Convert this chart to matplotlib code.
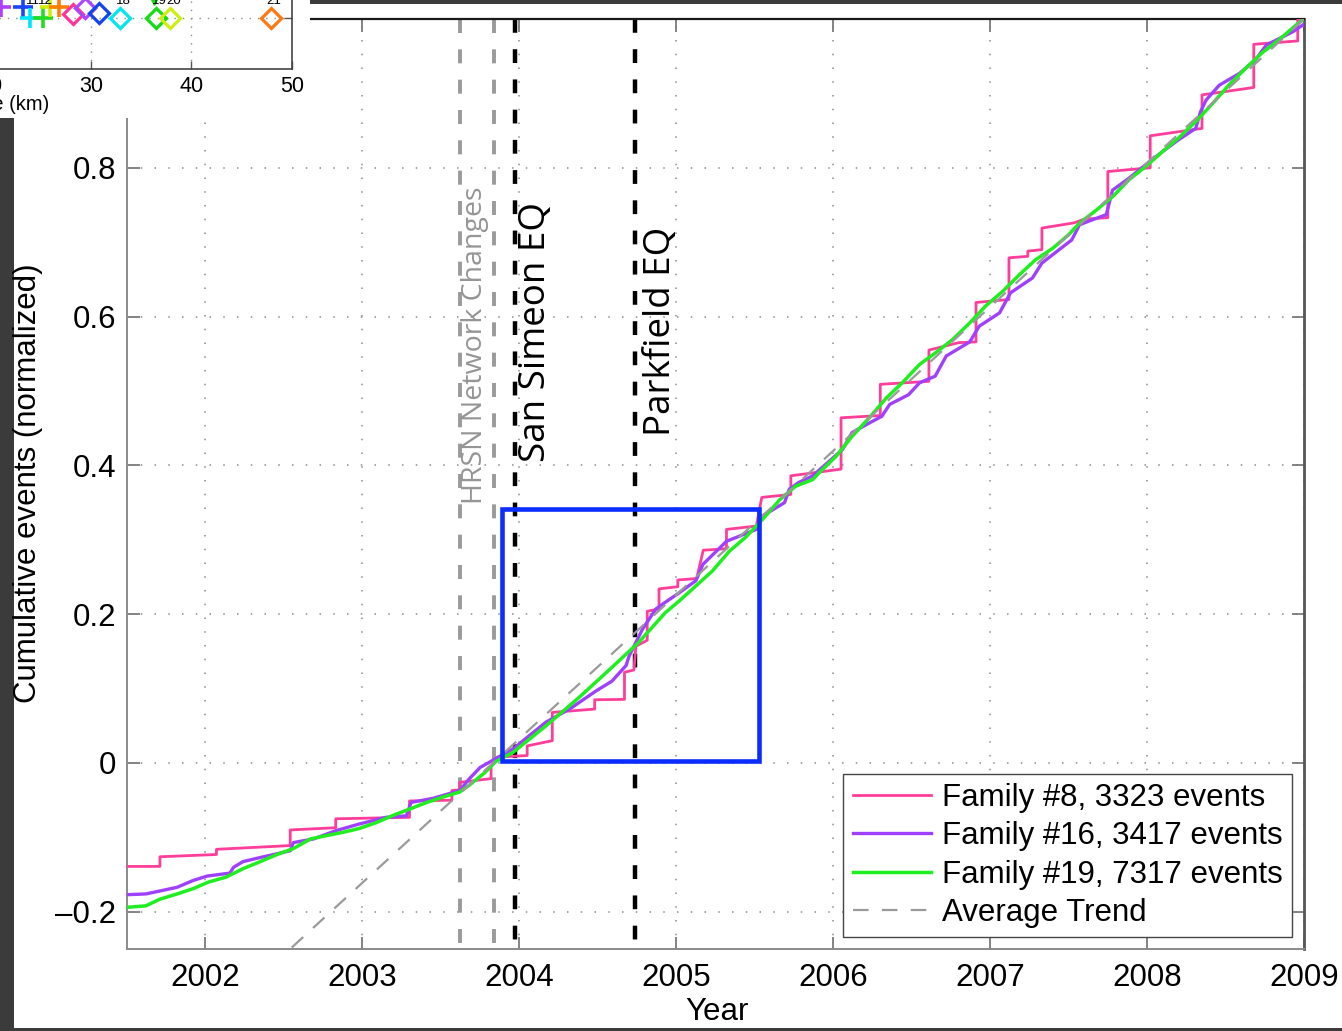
import matplotlib
matplotlib.use("Agg")
import matplotlib.pyplot as plt
from matplotlib.patches import Rectangle
from matplotlib.ticker import FixedLocator, FuncFormatter

# ---------------------------------------------------------------- data
# Family #8 (3323 events): normalised cumulative count, stepwise
fam8_year = [2001.50, 2001.71, 2001.71, 2002.07, 2002.07, 2002.54, 2002.54, 2002.83,
             2002.83, 2003.30, 2003.30, 2003.57, 2003.57, 2003.62, 2003.62, 2003.82,
             2003.82, 2003.86, 2004.05, 2004.05, 2004.21, 2004.21, 2004.48, 2004.48,
             2004.67, 2004.67, 2004.73, 2004.743, 2004.815, 2004.815, 2004.89, 2004.89,
             2005.01, 2005.01, 2005.13, 2005.172, 2005.32, 2005.32, 2005.51, 2005.545,
             2005.73, 2005.73, 2006.05, 2006.05, 2006.30, 2006.30, 2006.61, 2006.61,
             2006.80, 2006.91, 2006.91, 2007.12, 2007.12, 2007.24, 2007.24, 2007.33,
             2007.33, 2007.535, 2007.60, 2007.75, 2007.75, 2008.02, 2008.02, 2008.35,
             2008.35, 2008.68, 2008.68, 2008.96, 2008.96, 2009.00]
fam8_value = [-0.139, -0.139, -0.126, -0.123, -0.116, -0.111, -0.090, -0.087,
              -0.075, -0.073, -0.051, -0.050, -0.037, -0.036, -0.026, -0.021,
              -0.004, 0.008, 0.010, 0.023, 0.030, 0.068, 0.0725, 0.085,
              0.0855, 0.122, 0.125, 0.157, 0.165, 0.204, 0.207, 0.234,
              0.237, 0.246, 0.248, 0.286, 0.288, 0.314, 0.3185, 0.357,
              0.361, 0.386, 0.395, 0.464, 0.467, 0.509, 0.513, 0.555,
              0.565, 0.566, 0.619, 0.623, 0.679, 0.681, 0.688, 0.690,
              0.719, 0.726, 0.731, 0.733, 0.795, 0.800, 0.843, 0.853,
              0.898, 0.908, 0.966, 0.9705, 0.999, 1.000]

# Family #16 (3417 events)
fam16_year = [2001.50, 2001.62, 2001.71, 2001.82, 2001.92, 2002.01, 2002.155, 2002.18,
              2002.24, 2002.35, 2002.54, 2002.56, 2002.69, 2002.83, 2002.98, 2003.15,
              2003.28, 2003.31, 2003.45, 2003.62, 2003.68, 2003.75, 2003.96, 2004.17,
              2004.32, 2004.49, 2004.59, 2004.68, 2004.70, 2004.785, 2004.87, 2004.93,
              2005.02, 2005.125, 2005.17, 2005.32, 2005.51, 2005.55, 2005.69, 2005.72,
              2005.78, 2005.87, 2005.95, 2006.06, 2006.12, 2006.23, 2006.31, 2006.36,
              2006.48, 2006.55, 2006.65, 2006.72, 2006.87, 2006.93, 2007.06, 2007.13,
              2007.27, 2007.33, 2007.44, 2007.52, 2007.57, 2007.65, 2007.74, 2007.78,
              2007.885, 2007.99, 2008.10, 2008.20, 2008.31, 2008.34, 2008.376, 2008.46,
              2008.59, 2008.69, 2008.76, 2008.93, 2009.00]
fam16_value = [-0.177, -0.176, -0.172, -0.167, -0.158, -0.152, -0.148, -0.140,
               -0.1325, -0.127, -0.118, -0.107, -0.102, -0.091, -0.082, -0.073,
               -0.071, -0.053, -0.0475, -0.037, -0.0215, -0.006, 0.019, 0.055,
               0.0725, 0.097, 0.110, 0.131, 0.144, 0.180, 0.207, 0.216,
               0.229, 0.245, 0.267, 0.298, 0.314, 0.332, 0.350, 0.368,
               0.377, 0.386, 0.401, 0.4215, 0.444, 0.457, 0.466, 0.482,
               0.495, 0.511, 0.520, 0.547, 0.566, 0.587, 0.605, 0.632,
               0.652, 0.672, 0.690, 0.703, 0.7235, 0.730, 0.737, 0.770,
               0.786, 0.804, 0.822, 0.8376, 0.853, 0.875, 0.891, 0.911,
               0.927, 0.945, 0.965, 0.983, 0.993]

# Family #19 (7317 events)
fam19_year = [2001.50, 2001.62, 2001.71, 2001.82, 2001.92, 2002.02, 2002.13, 2002.24,
              2002.35, 2002.45, 2002.56, 2002.67, 2002.77, 2002.88, 2002.98, 2003.09,
              2003.20, 2003.30, 2003.41, 2003.51, 2003.62, 2003.68, 2003.78, 2003.85,
              2003.96, 2004.17, 2004.38, 2004.59, 2004.76, 2004.93, 2005.02, 2005.125,
              2005.23, 2005.34, 2005.44, 2005.55, 2005.66, 2005.76, 2005.87, 2005.91,
              2006.02, 2006.12, 2006.23, 2006.34, 2006.44, 2006.55, 2006.65, 2006.76,
              2006.87, 2006.97, 2007.08, 2007.185, 2007.29, 2007.40, 2007.50, 2007.57,
              2007.67, 2007.78, 2007.885, 2007.99, 2008.10, 2008.20, 2008.31, 2008.42,
              2008.52, 2008.63, 2008.73, 2008.84, 2008.95, 2009.00]
fam19_value = [-0.194, -0.192, -0.183, -0.176, -0.169, -0.160, -0.1535, -0.142,
               -0.1325, -0.1235, -0.115, -0.102, -0.0976, -0.093, -0.088, -0.080,
               -0.070, -0.062, -0.053, -0.046, -0.039, -0.030, -0.013, 0.002,
               0.0143, 0.050, 0.088, 0.1285, 0.162, 0.202, 0.218, 0.238,
               0.258, 0.285, 0.303, 0.3275, 0.354, 0.372, 0.381, 0.390,
               0.4125, 0.439, 0.464, 0.491, 0.511, 0.5356, 0.551, 0.569,
               0.5915, 0.614, 0.634, 0.656, 0.6765, 0.692, 0.710, 0.7257,
               0.742, 0.761, 0.784, 0.8015, 0.822, 0.840, 0.862, 0.887,
               0.911, 0.934, 0.954, 0.972, 0.992, 1.000]

# Average trend (straight line end points)
trend_year = [2002.55, 2009.00]
trend_value = [-0.248, 1.000]

series_labels = ["Family #8, 3323 events", "Family #16, 3417 events",
                 "Family #19, 7317 events", "Average Trend"]

network_change_years = [2003.62, 2003.84]
quake_years = [2003.97, 2004.74]
quake_names = ["San Simeon EQ", "Parkfield EQ"]

box_years = [2003.89, 2005.53]
box_values = [0.003, 0.341]

year_ticks = [2002, 2003, 2004, 2005, 2006, 2007, 2008, 2009]
value_ticks = [-0.2, 0.0, 0.2, 0.4, 0.6, 0.8, 1.0]

# inset: family locations along the fault
inset_plus_km = [21.0, 23.2, 23.9, 25.2, 25.9, 26.8]
inset_plus_level = [0.6, 0.6, 0.0, 0.0, 0.6, 0.6]
inset_plus_colors = ["#b040ff", "#1a44ff", "#00e5ff", "#22dd22", "#ccee00", "#ff7f00"]
inset_diamond_km = [28.2, 29.4, 30.8, 32.9, 36.5, 37.9, 47.9]
inset_diamond_level = [0.25, 0.57, 0.29, 0.0, 0.0, 0.0, 0.0]
inset_diamond_colors = ["#ff3399", "#aa44ff", "#1144ee", "#00e5ee", "#11dd11", "#ccee11", "#ff7711"]
# family numbers printed above the lower markers
inset_label_km = [23.9, 25.2, 28.2, 30.8, 32.9, 36.5, 37.9, 47.9]
inset_label_level = [0.0, 0.0, 0.25, 0.29, 0.0, 0.0, 0.0, 0.0]
inset_label_ids = ["11", "12", "15", "17", "18", "19", "20", "21"]
inset_km_ticks = [0, 10, 20, 30, 40, 50]

# ---------------------------------------------------------------- figure
W, H, DPI = 1342, 1031, 100
SANS = ["Liberation Sans", "DejaVu Sans"]
HUMANIST = ["Open Sans", "DejaVu Sans"]
plt.rcParams["font.family"] = SANS

fig = plt.figure(figsize=(W / DPI, H / DPI), dpi=DPI, facecolor="#3b3b3b")


def fx(px):
    return px / W


def fy(py):
    return 1 - py / H


fig.add_artist(Rectangle((fx(14), fy(1028)), fx(1342) - fx(14), fy(4) - fy(1028),
                         transform=fig.transFigure, facecolor="white",
                         edgecolor="none", zorder=-5))

ax = fig.add_axes([fx(127), fy(949), fx(1304) - fx(127), fy(19) - fy(949)])
ax.set_xlim(2001.5, 2009.0)
ax.set_ylim(-0.25, 1.0)

ax.xaxis.set_major_locator(FixedLocator(year_ticks))
ax.yaxis.set_major_locator(FixedLocator(value_ticks))


def value_fmt(v, _pos):
    if abs(v) < 1e-9:
        return "0"
    s = "%.1f" % abs(v)
    return ("\u2013" + s) if v < 0 else s


ax.yaxis.set_major_formatter(FuncFormatter(value_fmt))
ax.tick_params(direction="in", length=9, width=1.3, color="#7a7a7a",
               top=True, right=True, labelsize=22.5, pad=8)
ax.tick_params(axis="x", pad=10)
ax.grid(True, color="#8c8c8c", linestyle=(0, (1, 8)), linewidth=1.1)

for side, col, lw in [("left", "#8a8a8a", 1.4), ("bottom", "#8a8a8a", 1.4),
                      ("top", "#1a1a1a", 1.6), ("right", "#555555", 2.0)]:
    ax.spines[side].set_color(col)
    ax.spines[side].set_linewidth(lw)

# event markers
for yr in network_change_years:
    ax.plot([yr, yr], [1.0, -0.25], color="#9a9a9a", lw=2.8,
            dashes=(3.6, 4.2), zorder=2)
for yr in quake_years:
    ax.plot([yr, yr], [1.0, -0.25], color="black", lw=3.2,
            dashes=(3.1, 3.7), zorder=2)

ax.text(2003.72, 0.348, "HRSN Network Changes", rotation=90, ha="center",
        va="bottom", color="#959595", fontsize=20.5, family=HUMANIST, zorder=3)
ax.text(2004.105, 0.405, quake_names[0], rotation=90, ha="center", va="bottom",
        color="black", fontsize=26.5, family=HUMANIST, zorder=3)
ax.text(2004.905, 0.439, quake_names[1], rotation=90, ha="center", va="bottom",
        color="black", fontsize=26.5, family=HUMANIST, zorder=3)

# cumulative curves
l8, = ax.plot(fam8_year, fam8_value, color="#ff3d9a", lw=2.0, zorder=4,
              label=series_labels[0])
l16, = ax.plot(fam16_year, fam16_value, color="#a040ff", lw=2.4, zorder=5,
               label=series_labels[1])
l19, = ax.plot(fam19_year, fam19_value, color="#1fee1f", lw=2.5, zorder=6,
               label=series_labels[2])
lt, = ax.plot(trend_year, trend_value, color="#9a9a9a", lw=1.6,
              dashes=(7, 6), zorder=7, label=series_labels[3])

ax.add_patch(Rectangle((box_years[0], box_values[0]),
                       box_years[1] - box_years[0], box_values[1] - box_values[0],
                       fill=False, edgecolor="#0a2cff", lw=3.3, zorder=8,
                       joinstyle="miter"))

leg = ax.legend(handles=[l8, l16, l19, lt], loc="lower right",
                bbox_to_anchor=(0.9898, 0.0129), fontsize=22.5,
                frameon=True, fancybox=False, shadow=False, framealpha=1,
                edgecolor="#444444", borderpad=0.3, labelspacing=0.26,
                handlelength=2.5, handletextpad=0.35, borderaxespad=0.0)
leg.get_frame().set_linewidth(1.0)
leg.set_zorder(10)

fig.text(fx(28), fy(483), "Cumulative events (normalized)", rotation=90,
         ha="center", va="center", fontsize=22.5)
fig.text(fx(717), fy(1012), "Year", ha="center", va="center", fontsize=22.5)

# ---------------------------------------------------------------- inset panel
fig.add_artist(Rectangle((0, fy(118)), fx(310), 1 - fy(118),
                         transform=fig.transFigure, facecolor="white",
                         edgecolor="none", zorder=5))

px_per_km = 100.5 / 10.0
px_per_level = 17.5
in_left = 292 - 50 * px_per_km
in_bottom = 69
level_bottom, level_top = -(69 - 18) / px_per_level, 1.5
in_top = 18 - level_top * px_per_level
ax2 = fig.add_axes([fx(in_left), fy(in_bottom), fx(292) - fx(in_left),
                    fy(in_top) - fy(in_bottom)])
ax2.set_zorder(6)
ax2.set_facecolor("white")
ax2.set_xlim(0, 50)
ax2.set_ylim(level_bottom, level_top)
ax2.set_xticks(inset_km_ticks)
ax2.set_yticks([0])
ax2.set_yticklabels([])
ax2.tick_params(direction="in", length=6, width=1.0, color="#555555",
                labelsize=15.5, pad=5, top=False, right=True)
ax2.grid(True, color="#8c8c8c", linestyle=(0, (1, 5)), linewidth=1.0)
for side in ["left", "top"]:
    ax2.spines[side].set_visible(False)
for side in ["right", "bottom"]:
    ax2.spines[side].set_color("#444444")
    ax2.spines[side].set_linewidth(1.2)

for km, lev, col in zip(inset_plus_km, inset_plus_level, inset_plus_colors):
    ax2.plot([km], [lev], marker="+", ms=15, mew=2.6, color=col, zorder=4)
for km, lev, col in zip(inset_diamond_km, inset_diamond_level, inset_diamond_colors):
    ax2.plot([km], [lev], marker="D", ms=10.5, mew=2.3, mfc="none", mec=col, zorder=4)
for km, lev, lab in zip(inset_label_km, inset_label_level, inset_label_ids):
    ax2.text(km + 0.3, lev + 0.62, lab, ha="center", va="bottom", fontsize=9.5, zorder=5)
ax2.plot([36.3], [1.05], marker="v", ms=7, color="#11dd11", zorder=4)

fig.text(fx(49), fy(104), "Distance (km)", ha="right", va="center",
         fontsize=14.5, zorder=7)

fig.savefig("out.png", dpi=DPI, facecolor=fig.get_facecolor())
